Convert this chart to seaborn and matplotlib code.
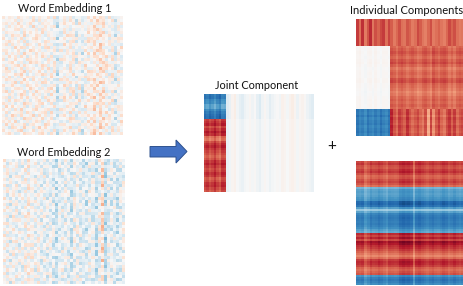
from __future__ import annotations

import matplotlib

matplotlib.use("Agg")
import matplotlib.pyplot as plt
import numpy as np
import seaborn as sns
from matplotlib.patches import Polygon

WIDTH = 464
HEIGHT = 286

# values: digit 0-9 is the fine texture, blue to red
word1_texture = [
    "6475385462736548294563716452837465192645",
    "3564726345817364526473851643572946358264",
    "5746395268341756423685472965314758263547",
    "4283657461925374681536247593648217536482",
    "6354782645371864259473165382746951362475",
    "2765341857463926547183652474935268174536",
    "5148673925486317546239871645326784593162",
    "7436258164795342681574369251864735426987",
    "3695472813564287349651782436957214386575",
    "5827364196428573614295738461527396482631",
    "4361958724635189276453817294663581247359",
    "6752483159746326584917364258315976428365",
    "2846371965283754169437582614938257463194",
    "5394728516473962815364279583146725938461",
    "7163854297564318642975381546723684159472",
    "3578426139685247396154762893415268743956",
    "6245793864315972586341827659432715986324",
    "4926358175642839175462938567214396857241",
    "5783146927358416293745816324975268143697",
    "2654879314265973841526397481652843719562",
    "6391527486734125968473251698743562189435",
    "4875263951846372514968325741968235476183",
    "3246918574362985147326859471236598471625",
    "7568342196475213684597142836574921365784",
    "5134786259641738952461873925648317265943",
    "6927354816295467381652794318526749138256",
    "3485169724836251947365182746953184762935",
    "5716248393574186362794851632479358216847",
    "4293875161468329574186327965814273569164",
    "7635142986357942816534769182436857291343",
    "2958463715286134597428651379548162734986",
    "6471839254793568124965387241659372418576",
    "3824567196245781936352914867321584967245",
    "5169728346918472653784162595836471295738",
    "4736251987364925817546983261475239685164",
    "6583914272586137469231758643928165473729",
    "2947365816743298516874325196574382961456",
    "5318742965169584327456913782645197328674",
    "7462589134825736194385267914358621749583",
    "3695124876437951862743598126479385216947",
]
word2_texture = [
    "8462537194635827416395274618354927163485",
    "4195738264917352648173596241783564291736",
    "7364821593462785139648273516947238561492",
    "2857346915738246591372864957132685497316",
    "5943167284659138472965318427596143782954",
    "3716892453174926583147692835416792358641",
    "6284573916825374196528437169285347916253",
    "4593168725946183527394816527394165782439",
    "7135926484371695284615739248165397246518",
    "2846753197528364917283546179382546917385",
    "5967314826149753682497135862974318265497",
    "3178496253786241935768214395678142593786",
    "8425169374265917384251796438251967342185",
    "4693725186943578162493586271943652718496",
    "6217854391572483916527394851627394815263",
    "3954162847316295748136284759431628579314",
    "7582936415849361725948173264958317246895",
    "2346718594263785149372561894236785194237",
    "5819243976518924736185942367518946273581",
    "4167895362941673258416397254816375294163",
    "7952364815379528146397625148397162584739",
    "3284176957264193875264819375264897135246",
    "6579423186745832961574298631572984316579",
    "1836597244168357926418359724683159472168",
    "8243165397528416973528461937852416793852",
    "4795382616397248516973285149732851649738",
    "6318957243785169324578196234785913624578",
    "2954316878243695187246351987241365987246",
    "7462839151684729356184793562187495362718",
    "3187594626951384762951847326951874362951",
    "5629143787364215897342165893741625893476",
    "4873265919458736124589371264598137264859",
    "8316497252631984753263918457263194875326",
    "1594728365972541836795248136975214386975",
    "6248351974386152947638215749386152497638",
    "3975162848197436258914376258941736528419",
    "7152486396523798146253971864253719864253",
    "2864973513874619325871649235874163925871",
    "5396124787215836974125683974215863794215",
    "4718359266493257148649327518649325781964",
]
word1_cols = [0.08, 0.02, -0.04, 0.06, 0.03, 0.0, 0.04, 0.05, -0.02, 0.03, 0.04, 0.02, 0.06, 0.01, 0.03, 0.0, 0.02, -0.04, -0.34, -0.06,
              0.03, 0.0, 0.02, 0.03, -0.16, 0.0, -0.24, 0.04, 0.02, 0.12, 0.16, 0.08, 0.18, 0.14, 0.03, -0.06, 0.0, -0.24, -0.04, 0.02]
word2_cols = [0.14, 0.0, -0.08, 0.04, 0.02, -0.06, -0.04, 0.06, 0.1, 0.06, -0.04, 0.02, -0.08, -0.04, -0.1, -0.06, -0.14, -0.28, -0.1, -0.04,
              -0.06, -0.1, -0.26, -0.04, -0.02, -0.08, -0.14, -0.26, -0.04, -0.08, -0.28, 0.0, 0.34, -0.4, -0.08, -0.14, -0.1, -0.24, -0.1, -0.04]

# joint component
joint_left_cols = [-0.02, 0.03, -0.05, 0.0, 0.08, -0.02, -0.08, 0.06, 0.04]
joint_right_cols = [-0.14, -0.08, 0.04, 0.08, -0.04, -0.1, -0.14, -0.06, -0.03, 0.02, -0.05, 0.0, -0.1, -0.16, -0.05, 0.02, -0.04, -0.12, -0.06, -0.02,
                    0.0, -0.04, 0.06, 0.03, -0.03, 0.05, 0.08, 0.03, -0.07, 0.02, 0.05, 0.01, -0.06, -0.1, -0.14]
joint_top_rows = [-0.8, -0.82, -0.72, -0.7, -0.6, -0.6, -0.72, -0.8, -0.84, -0.86]
joint_bottom_rows = [0.75, 0.8, 0.85, 0.72, 0.8, 0.88, 0.82, 0.62, 0.58, 0.72, 0.8, 0.85, 0.78, 0.74, 0.7, 0.65, 0.7, 0.8, 0.85, 0.78,
                     0.72, 0.75, 0.82, 0.78, 0.68, 0.72, 0.8, 0.82, 0.75, 0.7]

# first individual component
ind1_left_cols = [0.03, 0.05, 0.0, -0.04, 0.02, 0.04, -0.02, 0.05, 0.0, -0.04, 0.03, 0.02, -0.03]
ind1_right_cols = [0.05, 0.02, -0.04, 0.03, 0.06, 0.02, -0.03, 0.01, 0.04, 0.0, -0.06, -0.03, 0.03, 0.05, 0.0, -0.05, 0.07, 0.02, -0.02, 0.04,
                   0.06, 0.02, -0.05, 0.0, -0.06, 0.02, 0.05, 0.03]
ind1_top_left = [0.78, 0.62, 0.82, 0.58, 0.7, 0.84, 0.6, 0.72, 0.66, 0.74, 0.78, 0.62, 0.76]
ind1_top_right = [0.68, 0.58, 0.64, 0.72, 0.62, 0.6, 0.7, 0.66, 0.58, 0.62, 0.74, 0.68, 0.6, 0.56, 0.64, 0.72, 0.58, 0.62, 0.66, 0.6,
                  0.56, 0.64, 0.74, 0.66, 0.72, 0.62, 0.58, 0.6]
ind1_mid_rows = [0.0, 0.04, 0.08, 0.04, 0.0, 0.06, 0.1, 0.03, -0.04, 0.0, 0.03, 0.0, 0.08, 0.1, 0.02, 0.0, -0.03, -0.08, -0.05, 0.0,
                 0.03, 0.0, 0.04, 0.0]
ind1_bottom_left = [-0.82, -0.74, -0.78, -0.7, -0.82, -0.76, -0.72, -0.8, -0.74, -0.84, -0.76, -0.72, -0.82]
ind1_bottom_right = [0.86, 0.7, 0.62, 0.78, 0.72, 0.66, 0.82, 0.7, 0.62, 0.68, 0.74, 0.64, 0.58, 0.72, 0.42, 0.75, 0.5, 0.68, 0.78, 0.64,
                     0.58, 0.72, 0.8, 0.66, 0.78, 0.62, 0.7, 0.74]
ind1_bottom_rows = [0.0, 0.02, -0.03, 0.03, 0.0, -0.02, 0.03, 0.0, -0.02, 0.02]

# second individual component
ind2_rows = [0.75, 0.8, 0.72, 0.7, 0.76, 0.8, 0.72, 0.64, 0.66, 0.72, 0.76, 0.7, 0.62,
             -0.52, -0.6, -0.62, -0.6, -0.62, -0.66, -0.68, -0.86, -0.88, -0.82, -0.62, -0.42, -0.6, -0.74, -0.78, -0.8, -0.78, -0.76, -0.78, -0.75, -0.7, -0.62, -0.58,
             0.84, 0.76, 0.86, 0.74, 0.95, 0.9, 0.82, 0.78, 0.72, 0.66, 0.6, 0.54, 0.62, 0.78, 0.84, 0.82, 0.76, 0.66, 0.62, 0.66, 0.7,
             -0.66, -0.76, -0.8, -0.76, -0.7]
ind2_gain = [1.0, 0.98, 1.02, 0.86, 0.94, 1.04, 0.98, 1.0, 1.06, 1.02, 0.96, 0.9, 1.02, 1.0, 0.98, 1.0, 1.1, 1.14, 1.1, 1.12,
             1.08, 0.84, 1.06, 1.1, 1.04, 1.0, 0.96, 1.02, 1.06, 1.0, 0.98, 1.02, 1.08, 1.04, 0.96, 1.0, 1.06, 1.0, 0.96, 1.0]


def decode_texture(rows, cols, offset):
    texture = np.array([[int(c) for c in row] for row in rows], dtype=float)
    return (texture - 4.5) * 0.08 + offset + np.array(cols)


def plaid(rows, cols):
    return np.add.outer(np.array(rows), np.array(cols))


def draw_heatmap(fig, box, data, limit=1.12):
    left, top, right, bottom = box
    ax = fig.add_axes([left / WIDTH, 1 - bottom / HEIGHT, (right - left) / WIDTH, (bottom - top) / HEIGHT])
    sns.heatmap(data, cmap="RdBu_r", vmin=-limit, vmax=limit, cbar=False, xticklabels=False, yticklabels=False, ax=ax)
    ax.set_xlabel("")
    ax.set_ylabel("")
    return ax


def label(fig, x, y, text, size=7.8):
    fig.text(x / WIDTH, 1 - y / HEIGHT, text, ha="center", va="center", fontsize=size, color="#111111")


sns.set_theme(style="white")
plt.rcParams["font.family"] = ["Lato", "DejaVu Sans"]

fig = plt.figure(figsize=(WIDTH / 100, HEIGHT / 100), dpi=100)

word1 = decode_texture(word1_texture, word1_cols, 0.0)
word2 = decode_texture(word2_texture, word2_cols, -0.08)

joint = np.vstack([
    np.hstack([plaid(joint_top_rows, joint_left_cols), plaid(np.zeros(len(joint_top_rows)), joint_right_cols)]),
    np.hstack([plaid(joint_bottom_rows, joint_left_cols), plaid(np.zeros(len(joint_bottom_rows)) + 0.01, np.array(joint_right_cols) * 0.6)]),
])

ind1_top = np.hstack([plaid(np.zeros(len(ind1_bottom_rows)), ind1_top_left), plaid(np.zeros(len(ind1_bottom_rows)), ind1_top_right)])
ind1_mid = np.hstack([plaid(np.array(ind1_mid_rows) * 0.2, np.array(ind1_left_cols) * 0.6), plaid(np.array(ind1_mid_rows) + 0.62, ind1_right_cols)])
ind1_bottom = np.hstack([plaid(ind1_bottom_rows, ind1_bottom_left), plaid(ind1_bottom_rows, ind1_bottom_right)])
ind1 = np.vstack([ind1_top, ind1_mid, ind1_bottom])

ind2 = np.outer(np.array(ind2_rows), np.array(ind2_gain))

draw_heatmap(fig, (2, 16, 123, 135), word1, limit=1.7)
draw_heatmap(fig, (3, 159, 125, 284), word2, limit=1.7)
draw_heatmap(fig, (204, 94, 314, 192), joint)
draw_heatmap(fig, (356, 19, 464, 136), ind1)
draw_heatmap(fig, (356, 161, 464, 285), ind2)

label(fig, 65, 8, "Word Embedding 1")
label(fig, 64, 153, "Word Embedding 2")
label(fig, 257, 86, "Joint Component")
label(fig, 407, 10, "Individual Components", 8)
label(fig, 332, 146, "+", 11)

# block arrow between the inputs and the components
arrow_px = [(150, 146.5), (176, 146.5), (176, 140), (187, 151.5), (176, 163), (176, 157), (150, 157)]
fig.add_artist(Polygon([(x / WIDTH, 1 - y / HEIGHT) for x, y in arrow_px], closed=True, transform=fig.transFigure,
                       facecolor="#4472c4", edgecolor="#2f528f", linewidth=0.7))

fig.savefig("out.png", dpi=100)
plt.close(fig)
